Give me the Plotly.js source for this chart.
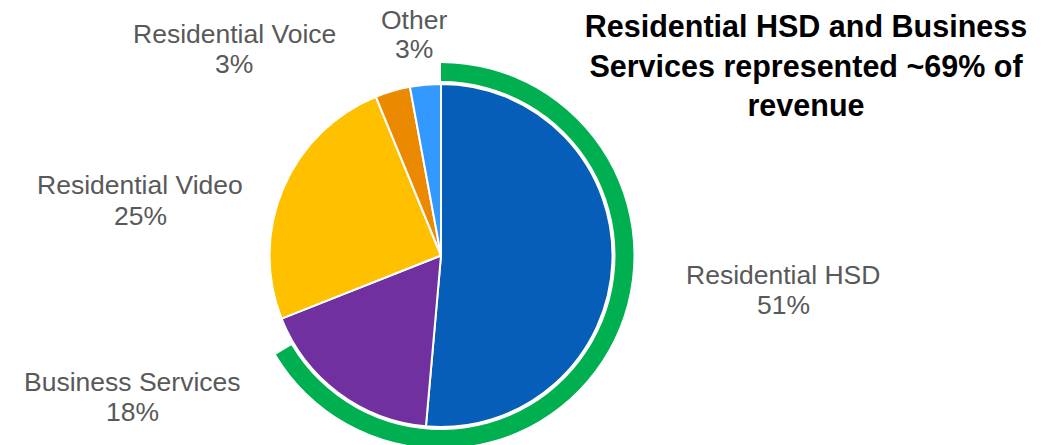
<!DOCTYPE html>
<html>
<head>
<meta charset="utf-8">
<script src="https://cdn.plot.ly/plotly-3.0.1.min.js"></script>
<style>
html,body{margin:0;padding:0;overflow:hidden;background:#fff;}
#chart{width:1059px;height:460px;}
</style>
</head>
<body>
<div id="chart"></div>
<script>
// Revenue mix (slices, clockwise from 12 o'clock)
const categories = ["Residential HSD", "Business Services", "Residential Video", "Residential Voice", "Other"];
const values = [51.4, 17.6, 24.8, 3.3, 2.9];
const percentLabels = ["51%", "18%", "25%", "3%", "3%"];
const sliceColors = ["#065EB8", "#7030A0", "#FFC000", "#EB8A00", "#3399FF"];
// Highlight ring (HSD + Business Services)
const ringLabels = ["Residential HSD + Business Services", "rest"];
const ringValues = [66.4, 33.6];
const titleText = "Residential HSD and Business<br>Services represented ~69% of<br>revenue";

const W = 1059, H = 460;
const cx = 441, cy = 255.5, rPie = 171.5, rRing = 192.5, rRingIn = 174.5;
function dom(r){
  return {
    x: [(cx - r) / W, (cx + r) / W],
    y: [(H - cy - r) / H, (H - cy + r) / H]
  };
}

const pie = {
  type: "pie",
  labels: categories,
  values: values,
  sort: false,
  direction: "clockwise",
  rotation: 0,
  textinfo: "none",
  hoverinfo: "label+percent",
  marker: {colors: sliceColors, line: {color: "#ffffff", width: 2}},
  domain: dom(rPie),
  showlegend: false
};
const ring = {
  type: "pie",
  labels: ringLabels,
  values: ringValues,
  sort: false,
  direction: "clockwise",
  rotation: 0,
  hole: rRingIn / rRing,
  textinfo: "none",
  hoverinfo: "skip",
  marker: {colors: ["#00B050", "rgba(0,0,0,0)"], line: {width: 0}},
  domain: dom(rRing),
  showlegend: false
};

// label placement (pixel centers of the two text lines)
const labelPos = [
  {x: 783, y1: 275, y2: 305},
  {x: 132, y1: 382, y2: 412},
  {x: 140, y1: 185, y2: 216},
  {x: 234, y1: 34, y2: 64},
  {x: 414, y1: 20, y2: 49}
];
const labelFont = {family: "Liberation Sans, Arial, sans-serif", size: 26.5, color: "#595959"};
const annotations = [];
categories.forEach((c, i) => {
  const p = labelPos[i];
  annotations.push({text: c, x: p.x / W, y: (H - p.y1) / H, xref: "paper", yref: "paper",
    xanchor: "center", yanchor: "middle", showarrow: false, font: labelFont});
  annotations.push({text: percentLabels[i], x: p.x / W, y: (H - p.y2) / H, xref: "paper", yref: "paper",
    xanchor: "center", yanchor: "middle", showarrow: false, font: labelFont});
});

const layout = {
  width: W, height: H,
  margin: {l: 0, r: 0, t: 0, b: 0},
  paper_bgcolor: "#ffffff",
  showlegend: false,
  title: {
    text: "<b>" + titleText + "</b>",
    x: 806 / W, xanchor: "center",
    y: 1 - 37 / H, yanchor: "top", yref: "container",
    font: {family: "Liberation Sans, Arial, sans-serif", size: 30.5, color: "#000000"}
  },
  annotations: annotations
};

Plotly.newPlot("chart", [ring, pie], layout, {displayModeBar: false, staticPlot: true});
</script>
</body>
</html>
